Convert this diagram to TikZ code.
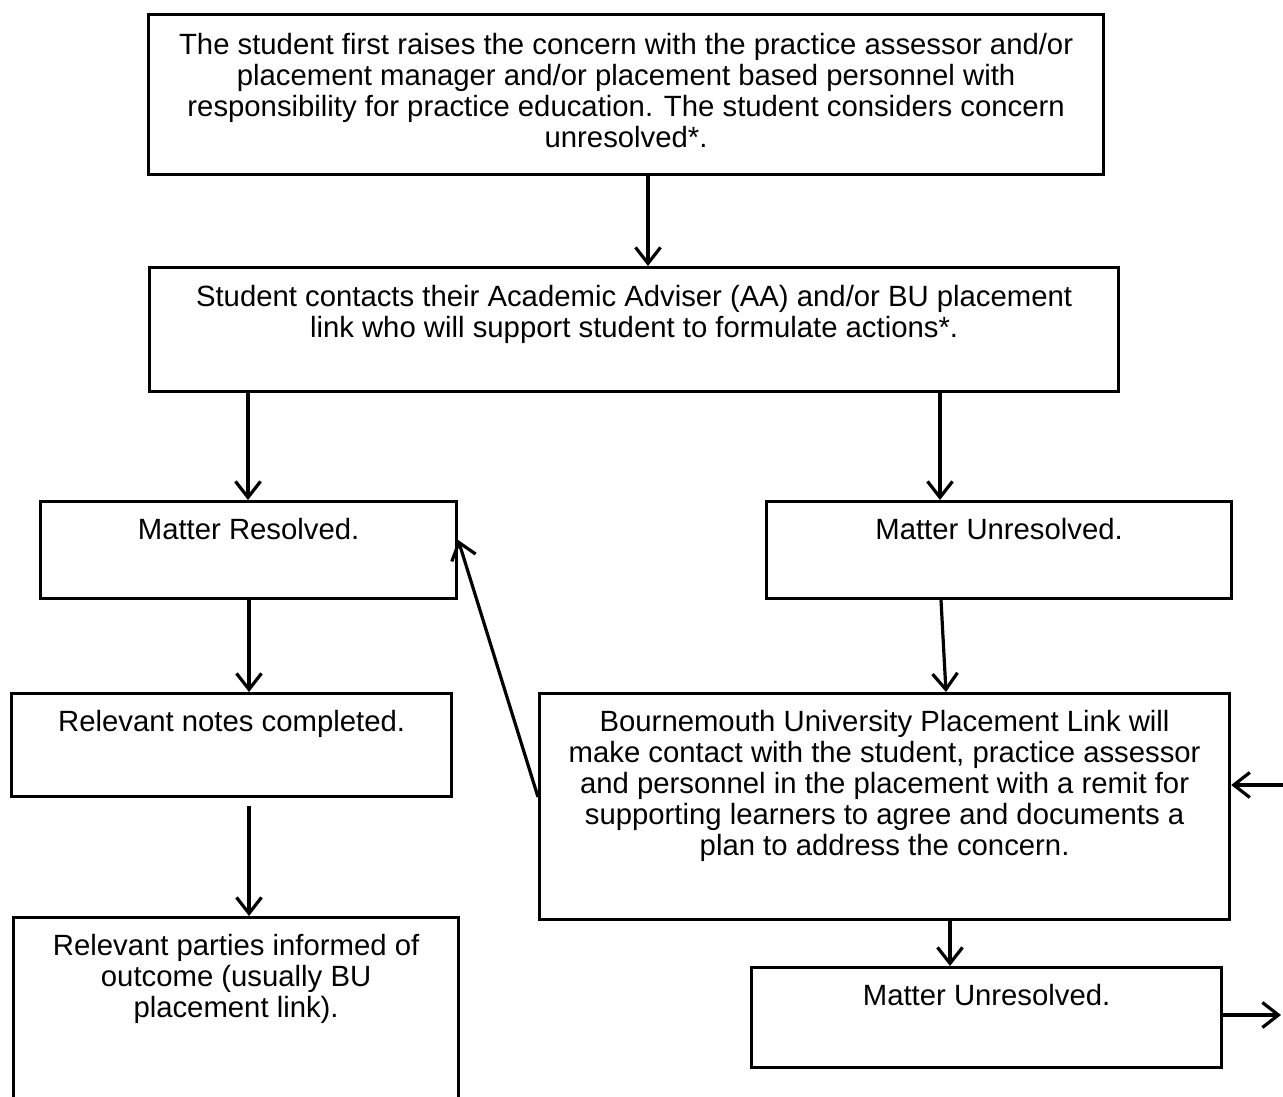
\documentclass[tikz,border=0pt]{standalone}
\usepackage{fontspec}
\setmainfont{Liberation Sans}
\usetikzlibrary{arrows.meta}
\tikzset{
  box/.style={draw=black, line width=3.2pt, rectangle, inner sep=0pt, anchor=north west},
  txt/.style={anchor=north, inner sep=0pt, align=center, font=\fontsize{29.3pt}{31pt}\selectfont},
  arr/.style={draw=black, line width=3.2pt, -{Straight Barb[length=16pt,width=25pt,line width=3.2pt]}}
}
\begin{document}
\begin{tikzpicture}[x=1pt,y=-1pt]
\useasboundingbox (0,0) rectangle (1283,1097);
\clip (0,0) rectangle (1283,1097);
\fill[white] (0,0) rectangle (1283,1097);
% boxes
\node[box, minimum width=955pt, minimum height=160pt] (b1) at (147,13) {};
\node[box, minimum width=969pt, minimum height=124pt] (b2) at (148,266) {};
\node[box, minimum width=416pt, minimum height=97pt] (b3) at (39,500) {};
\node[box, minimum width=465pt, minimum height=97pt] (b4) at (765,500) {};
\node[box, minimum width=440pt, minimum height=103pt] (b5) at (10,692) {};
\node[box, minimum width=690pt, minimum height=226pt] (b6) at (538,692) {};
\node[box, minimum width=445pt, minimum height=210pt] (b7) at (12,916) {};
\node[box, minimum width=470pt, minimum height=100pt] (b8) at (750,966) {};
% texts
\node[txt] (t1) at ([yshift=-20pt]b1.north) {The student first raises the concern with the practice assessor and/or\\placement manager and/or placement based personnel with\\responsibility for practice education. The student considers concern\\unresolved*.};
\node[txt] (t2) at ([yshift=-19pt]b2.north) {Student contacts their Academic Adviser (AA) and/or BU placement\\link who will support student to formulate actions*.};
\node[txt] (t3) at ([yshift=-18pt]b3.north) {Matter Resolved.};
\node[txt] (t4) at ([yshift=-18pt]b4.north) {Matter Unresolved.};
\node[txt] (t5) at ([yshift=-18pt]b5.north) {Relevant notes completed.};
\node[txt] (t6) at ([yshift=-18pt]b6.north) {Bournemouth University Placement Link will\\make contact with the student, practice assessor\\and personnel in the placement with a remit for\\supporting learners to agree and documents a\\plan to address the concern.};
\node[txt] (t7) at ([yshift=-18pt]b7.north) {Relevant parties informed of\\outcome (usually BU\\placement link).};
\node[txt] (t8) at ([yshift=-18pt]b8.north) {Matter Unresolved.};
% free ends
\coordinate (rin) at (1283,785);
\coordinate (rout) at (1281,1015);
% connectors
\draw[arr] ([xshift=501pt]b1.south west) -- ([xshift=500pt]b2.north west);
\draw[arr] ([xshift=100pt]b2.south west) -- ([xshift=209pt]b3.north west);
\draw[arr] ([xshift=792pt]b2.south west) -- ([xshift=175pt]b4.north west);
\draw[arr] ([xshift=210pt]b3.south west) -- ([xshift=239pt]b5.north west);
\draw[arr] ([xshift=239pt,yshift=-8pt]b5.south west) -- ([xshift=237pt]b7.north west);
\draw[arr] ([xshift=176pt]b4.south west) -- ([xshift=408pt]b6.north west);
\draw[arr] ([xshift=412pt]b6.south west) -- ([xshift=200pt]b8.north west);
\draw[arr] ([yshift=-105pt]b6.north west) -- ([yshift=-40pt]b3.north east);
\draw[arr] (rin) -- ([yshift=-93pt]b6.north east);
\draw[arr] ([yshift=-49pt]b8.north east) -- (rout);
\end{tikzpicture}
\end{document}
